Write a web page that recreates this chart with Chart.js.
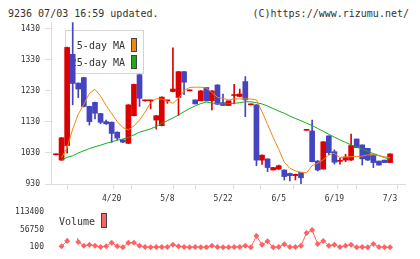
<!DOCTYPE html>
<html><head><meta charset="utf-8">
<script src="https://cdn.jsdelivr.net/npm/chart.js@4/dist/chart.umd.min.js"></script>
<style>
html,body{margin:0;padding:0;background:#fff;width:420px;height:259px;overflow:hidden;position:relative;font-family:"DejaVu Sans Mono",monospace;}
.hdr{position:absolute;top:8px;font-size:10px;line-height:12px;color:#333;white-space:pre;}
#hdrL{left:8px;}
#hdrR{right:11px;}
#c1{position:absolute;left:0;top:0;}
#c2{position:absolute;left:0;top:200px;}
</style></head><body>
<div class="hdr" id="hdrL">9236 07/03 16:59 updated.</div>
<div class="hdr" id="hdrR">(C)https://www.rizumu.net/</div>
<canvas id="c1" width="420" height="205"></canvas>
<canvas id="c2" width="420" height="59"></canvas>
<script>
// ---- data (index 0 = previous session marker) ----
const open  = [1024,1007,1054,1348,1255,1273,1180,1193,1157,1131,1129,1097,1072,1061,1150,1282,1198,1198,1136,1118,1198,1228,1209,1292,1230,1201,1198,1241,1198,1249,1192,1183,1215,1212,1260,1185,1185,1007,1011,975,978,975,964,957,967,1103,1101,1004,978,1085,1034,1003,1007,1007,1075,1056,1045,1024,1004,1007,999];
const high  = [1024,1080,1371,1450,1256,1274,1181,1194,1158,1136,1130,1098,1073,1186,1252,1283,1199,1198,1151,1211,1200,1369,1293,1293,1230,1201,1231,1241,1231,1250,1220,1198,1251,1236,1276,1185,1186,1024,1011,984,991,976,965,962,967,1103,1136,1006,1067,1085,1040,1013,1026,1091,1075,1056,1045,1024,1004,1007,1027];
const low   = [1024,1006,1029,1185,1208,1178,1120,1140,1124,1122,1064,1072,1063,1060,1149,1180,1197,1172,1107,1117,1190,1227,1151,1218,1230,1188,1198,1197,1169,1186,1182,1183,1188,1211,1147,1185,989,993,970,975,977,943,940,943,931,1103,1001,972,978,1024,994,994,1002,1006,1047,991,1006,983,991,999,999];
const close = [1024,1079,1370,1254,1236,1180,1131,1158,1129,1124,1093,1078,1065,1185,1251,1206,1198,1198,1150,1210,1198,1236,1292,1258,1230,1188,1230,1198,1230,1187,1183,1198,1217,1220,1201,1185,1007,1023,983,983,989,954,957,961,950,1103,1002,975,1066,1031,1000,1005,1017,1054,1047,1011,1007,999,991,999,1027];
const ma5   = [null,1015,1047,1107,1155,1187,1222,1235,1213,1183,1157,1131,1112,1104,1117,1136,1162,1192,1205,1204,1197,1190,1206,1231,1241,1242,1242,1239,1225,1209,1206,1201,1204,1204,1204,1204,1201,1163,1122,1080,1042,1000,981,972,968,966,989,997,1008,1024,1029,1015,1017,1018,1018,1020,1024,1024,1021,1018,1015];
const ma25  = [null,1008,1016,1021,1030,1037,1044,1050,1055,1061,1066,1071,1075,1080,1088,1097,1102,1108,1115,1125,1134,1143,1152,1163,1173,1182,1189,1194,1191,1189,1188,1189,1190,1192,1195,1195,1192,1188,1181,1173,1165,1158,1149,1141,1134,1126,1118,1109,1100,1090,1081,1072,1064,1056,1049,1042,1035,1028,1022,1015,1010];
const volume = [null,2900,20000,90000,17100,5000,7700,5000,1000,2900,14300,2900,100,14300,14300,5000,1000,100,1000,1000,1000,7700,2900,1000,100,1000,100,100,5000,1000,100,100,1000,1000,5000,100,36000,7700,19100,100,1000,9500,1000,1000,5000,45400,54800,10500,20000,5000,7700,1000,5000,7700,100,1000,100,10500,1000,100,100];
const dateLabels = ['4/20','5/8','5/22','6/5','6/19','7/3'];
const dateIndex  = [10,20,30,40,50,60];
const priceTicks = [930,1030,1130,1230,1330,1430];
const volumeTicks = [100,56750,113400];
const seriesNames = ['5-day MA','25-day MA'];
const volumeName = 'Volume';

// ---- styles ----
const UP='#dd0000', DN='#4444c0', ORANGE='#ee8811', GREEN='#1aaa1a', VOLC='#ff6262';
const FONT='"DejaVu Sans Mono", monospace';
const XMIN=-0.898, XMAX=62.68;
const colors = open.map((o,i)=> close[i]>=o ? UP : DN);
const idx = open.map((_,i)=>i);
const plain = v => String(v);

const xScale = {
  type:'linear', min:XMIN, max:XMAX, bounds:'data', offset:false,
  afterBuildTicks: s => {
    const t=[];
    for(let j=0;j<=11;j++) t.push({value: XMIN+(XMAX-XMIN)*j/11, g:true});
    dateIndex.forEach((v,j)=>t.push({value:v, lbl:dateLabels[j]}));
    t.sort((a,b)=>a.value-b.value);
    s.ticks=t;
  },
  ticks:{autoSkip:false, maxRotation:0, minRotation:0, padding:5, color:'#333',
    font:{family:FONT,size:8},
    callback:(v,i,t)=> (t[i] && t[i].lbl) ? t[i].lbl : ''},
  grid:{drawOnChartArea:false, tickLength:5,
    color: c => (c.tick && c.tick.g) ? '#dddddd' : 'rgba(0,0,0,0)'},
  border:{color:'#dddddd'},
  afterFit: s => { s.height = 21; }
};

const legendPlugin = {
  id:'mainLegend',
  beforeDatasetsDraw(chart){
    const c=chart.ctx; c.save();
    c.fillStyle='#fff'; c.fillRect(65,30,78,43);
    c.strokeStyle='#d4d4d4'; c.lineWidth=1; c.strokeRect(65.5,30.5,78,43);
    c.font='10px '+FONT; c.fillStyle='#333'; c.textAlign='right'; c.textBaseline='middle';
    c.fillText(seriesNames[0],125,46); c.fillText(seriesNames[1],125,63);
    c.fillStyle=ORANGE; c.fillRect(131,38,6,14);
    c.fillStyle=GREEN; c.fillRect(131,55,6,14);
    c.strokeStyle='#444'; c.strokeRect(131.5,38.5,5,13); c.strokeRect(131.5,55.5,5,13);
    c.restore();
  }
};

new Chart(document.getElementById('c1'), {
  data:{datasets:[
    {type:'line', data: idx.map(i=>({x:i,y:ma5[i]})), borderColor:ORANGE, borderWidth:1, pointRadius:0, order:0, spanGaps:false},
    {type:'line', data: idx.map(i=>({x:i,y:ma25[i]})), borderColor:GREEN, borderWidth:1, pointRadius:0, order:1},
    {type:'bar', data: idx.map(i=>({x:i,y:[open[i],close[i]]})), backgroundColor:colors, barThickness:5, minBarLength:1, grouped:false, order:2},
    {type:'bar', data: idx.map(i=>({x:i,y:[low[i],high[i]]})), backgroundColor:colors, barThickness:1, minBarLength:1, grouped:false, order:3}
  ]},
  options:{
    responsive:false, animation:false, devicePixelRatio:1,
    layout:{padding:{left:0,right:15,top:22,bottom:0}, autoPadding:false},
    plugins:{legend:{display:false}, tooltip:{enabled:false}, title:{display:false}},
    scales:{
      x: xScale,
      y:{type:'linear', min:930, max:1452, bounds:'data',
        afterBuildTicks: s => { s.ticks = priceTicks.map(v=>({value:v})); },
        ticks:{padding:5, color:'#333', font:{family:FONT,size:8}, callback: plain},
        grid:{drawOnChartArea:false, tickLength:6, color:'#dddddd'},
        border:{color:'#dddddd'},
        afterFit: s => { s.width = 51; }
      }
    }
  },
  plugins:[legendPlugin]
});

const volLegend = {
  id:'volLegend',
  afterDatasetsDraw(chart){
    const c=chart.ctx; c.save();
    c.fillStyle='#fff'; c.fillRect(52,3,60,35);
    c.font='10px '+FONT; c.fillStyle='#333'; c.textAlign='right'; c.textBaseline='middle';
    c.fillText(volumeName,95,22);
    c.fillStyle=VOLC; c.fillRect(101,13,6,15);
    c.strokeStyle='#444'; c.lineWidth=1; c.strokeRect(101.5,13.5,5,14);
    c.restore();
  }
};

new Chart(document.getElementById('c2'), {
  type:'line',
  data:{datasets:[{data: idx.map(i=>({x:i,y:volume[i]})), borderColor:VOLC, borderWidth:1,
    pointStyle:'rectRot', pointRadius:3, pointBackgroundColor:VOLC, pointBorderColor:VOLC, pointBorderWidth:0, clip:false}]},
  options:{
    responsive:false, animation:false, devicePixelRatio:1,
    layout:{padding:{left:0,right:15,top:9,bottom:10}, autoPadding:false},
    plugins:{legend:{display:false}, tooltip:{enabled:false}},
    scales:{
      x:{type:'linear', min:XMIN, max:XMAX, bounds:'data', display:false},
      y:{type:'linear', min:100, max:113400, bounds:'data',
        afterBuildTicks: s => { s.ticks = volumeTicks.map(v=>({value:v})); },
        ticks:{padding:7, color:'#333', font:{family:FONT,size:8}, callback: plain},
        grid:{display:false, drawTicks:false},
        border:{display:false},
        afterFit: s => { s.width = 51; }
      }
    }
  },
  plugins:[volLegend]
});
</script>
</body></html>
